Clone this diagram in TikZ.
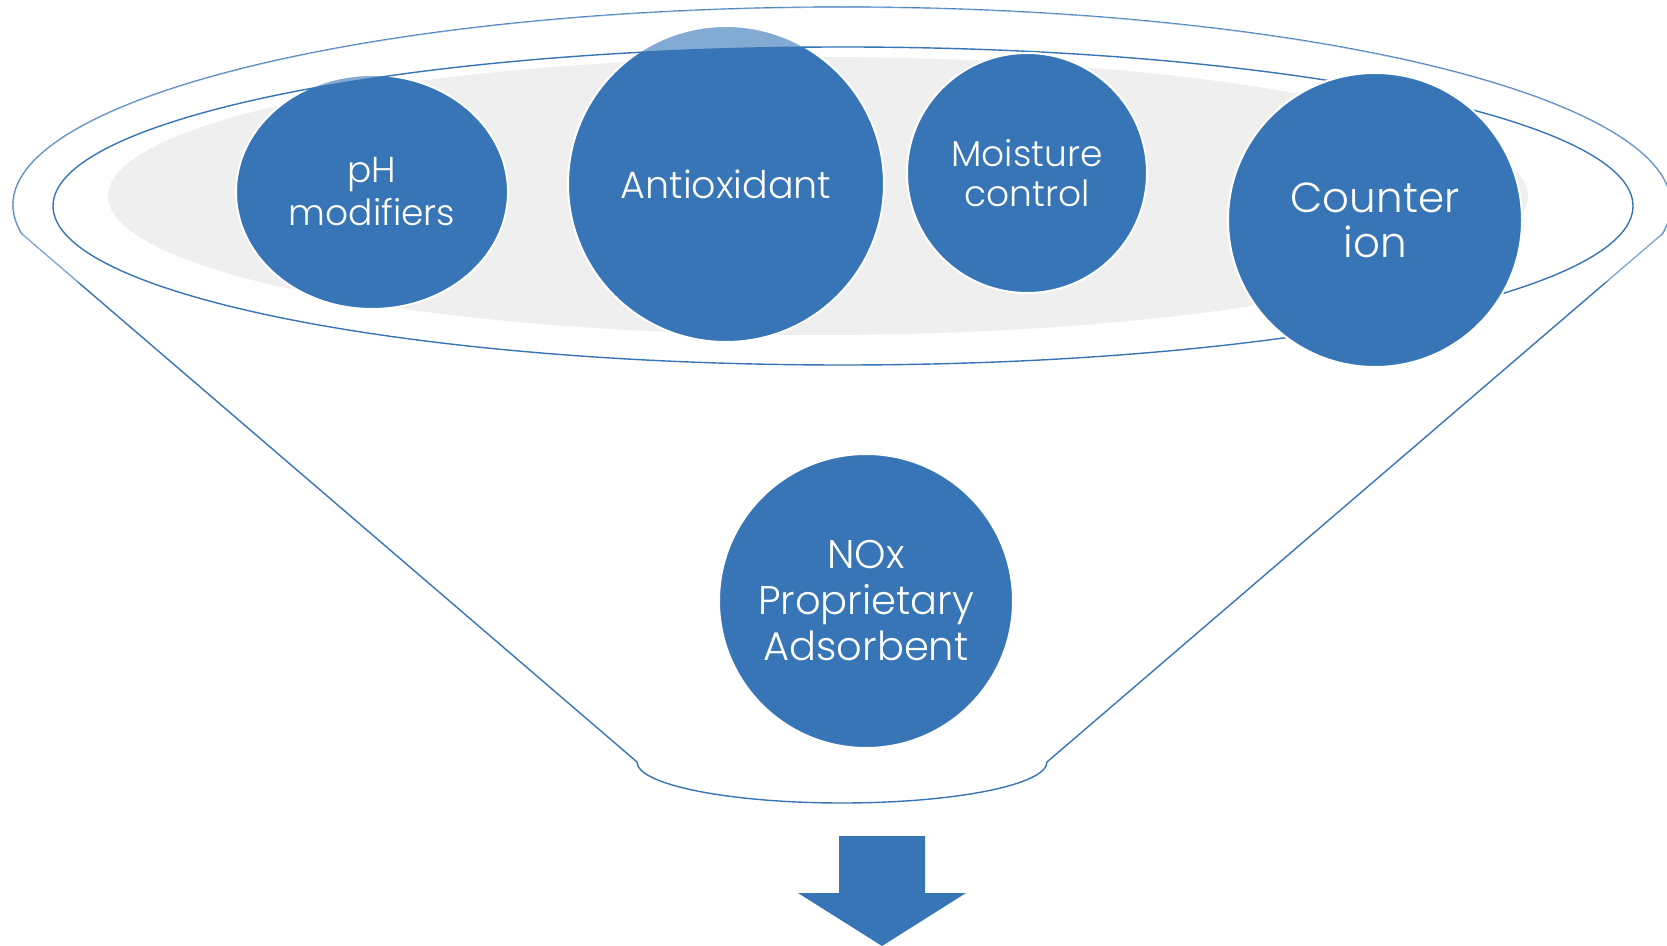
\documentclass[tikz,border=0pt]{standalone}
\usepackage{fontspec}
\setmainfont{Poppins}[UprightFont=* Light]
\usetikzlibrary{shapes.geometric}
\definecolor{fblue}{RGB}{55,117,183}
\definecolor{fgray}{RGB}{239,239,239}
\tikzset{
  ball/.style={fill=fblue, draw=white, line width=1pt, text=white, align=center, inner sep=0pt},
  rim/.style={draw=fblue, line width=0.7pt},
}
\begin{document}
\begin{tikzpicture}[x=0.5pt,y=-0.5pt]
\useasboundingbox (0,0) rectangle (1667,946);
% gray inner ellipse
\fill[fgray] (818,196) ellipse [x radius=710, y radius=139];
% funnel outline
\draw[rim, line join=round] (22,234) arc[start angle=171.6, end angle=368.4, x radius=829, y radius=198]
  -- (1047,762) arc[start angle=0, end angle=180, x radius=205, y radius=41] -- cycle;
% back circles
\node[ball, ellipse, minimum width=136pt, minimum height=117pt,
  font={\fontsize{18}{21.5}\selectfont}] (ph) at (372,192) {pH\\modifiers};
\node[ball, circle, minimum size=158pt,
  font={\fontsize{19}{22}\selectfont}] (anti) at (726,184) {Antioxidant};
% translucent rim ring
\fill[white, fill opacity=0.385, even odd rule] (842,205) ellipse [x radius=829, y radius=198]
  (843,206) ellipse [x radius=790, y radius=159];
% middle ellipse
\draw[rim] (843,206) ellipse [x radius=790, y radius=159];
% front circles
\node[ball, circle, minimum size=120pt,
  font={\fontsize{18}{20}\selectfont}] (moist) at (1027,173) {Moisture\\control};
\node[ball, circle, minimum size=147pt,
  font={\fontsize{21}{22.5}\selectfont}] (counter) at (1375,220) {Counter\\ion};
\node[ball, circle, minimum size=147pt,
  font={\fontsize{20}{23}\selectfont}] (nox) at (866,601) {NOx\\Proprietary\\Adsorbent};
% output arrow
\fill[fblue] (839,836) -- (925,836) -- (925,893) -- (966,893) -- (882,946) -- (798,893) -- (839,893) -- cycle;
\end{tikzpicture}
\end{document}
